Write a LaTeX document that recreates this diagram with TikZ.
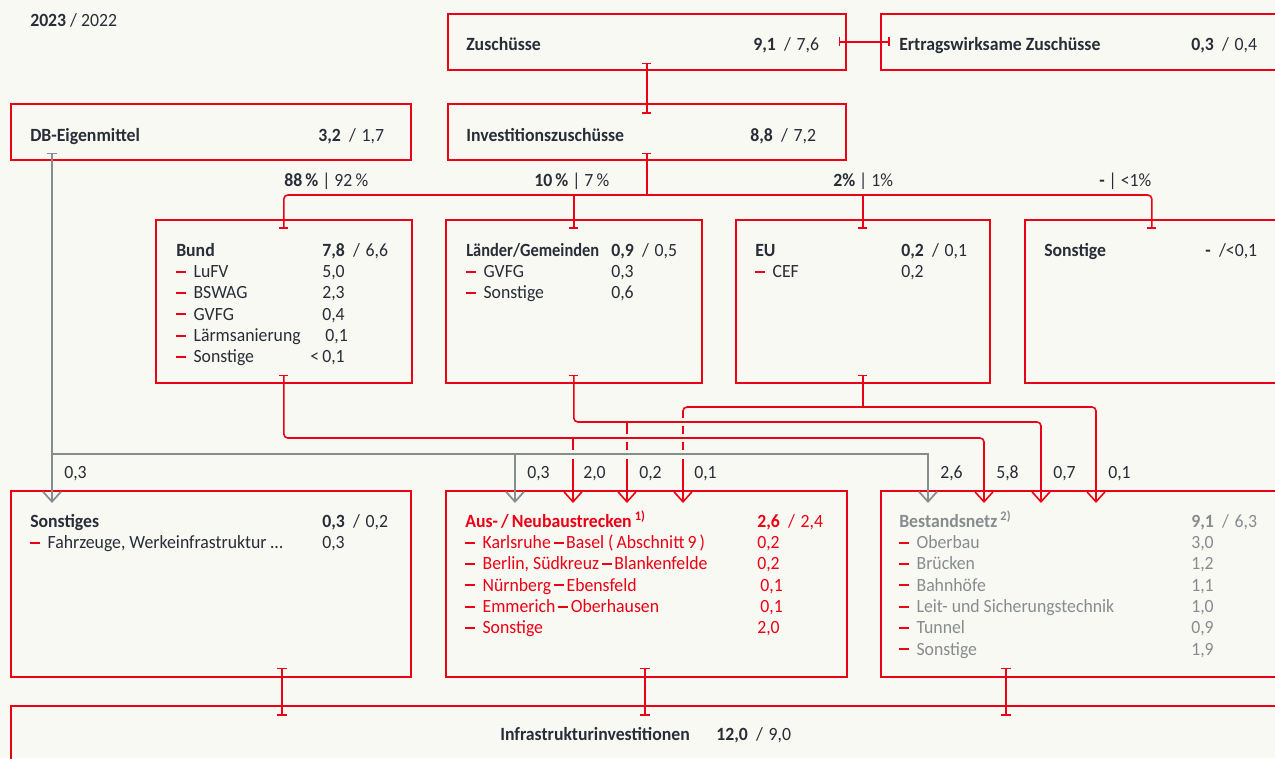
\documentclass[tikz,border=0pt]{standalone}
\usepackage{fontspec}
\setmainfont{Carlito}[FakeStretch=0.95]
\usetikzlibrary{arrows.meta,calc}
\definecolor{dbred}{HTML}{EC0016}
\definecolor{dbgray}{HTML}{878C8F}
\definecolor{dbtext}{HTML}{282D37}
\definecolor{dbbg}{HTML}{F7F9F2}
\newcommand\lidash{\textcolor{dbred}{\rule[3.6pt]{7.5pt}{1.5pt}}\hspace{5.5pt}}
\newcommand\citydash{\hspace{2pt}\rule[3.6pt]{7.5pt}{1.5pt}\hspace{2pt}}
\newcommand\twoval[2]{\textbf{#1}\hspace{0.45em}/\hspace{0.3em}#2}
\newcommand\boxlines[1]{\begin{tabular}[t]{@{}l@{}}#1\end{tabular}}
\begin{document}
\begin{tikzpicture}[x=0.75pt,y=-0.75pt,
  boxframe/.style={draw=dbred,line width=1.2pt,inner sep=0pt,anchor=north west},
  lbl/.style={font=\fontsize{14}{16}\selectfont,inner sep=0pt,text=dbtext,anchor=base west},
  redlink/.style={draw=dbred,line width=1.2pt},
  graylink/.style={draw=dbgray,line width=1.3pt},
  gapmask/.style={draw=dbbg,line width=5.5pt},
  bar2bar/.style={{Bar[width=7pt]}-{Bar[width=7pt]}},
  bar2tip/.style={{Bar[width=7pt]}-{Straight Barb[length=7.5pt,width=13.5pt]}},
  tip2tip/.style={{Straight Barb[length=7.5pt,width=13.5pt]}-{Straight Barb[length=7.5pt,width=13.5pt]}},
  tipend/.style={-{Straight Barb[length=7.5pt,width=13.5pt]}},
  barstart/.style={{Bar[width=7pt]}-},
  barend/.style={-{Bar[width=7pt]}}]
  \fill[dbbg] (0,0) rectangle (1275,758);
  \useasboundingbox (0,0) rectangle (1275,758);
  % boxes
  \node[boxframe,minimum width=398*.75pt,minimum height=56*.75pt] (zusch) at (447,13) {};
  \node[boxframe,minimum width=400*.75pt,minimum height=56*.75pt] (ertrag) at (880,13) {};
  \node[boxframe,minimum width=400*.75pt,minimum height=56*.75pt] (eigen) at (10,103) {};
  \node[boxframe,minimum width=398*.75pt,minimum height=56*.75pt] (invest) at (447,103) {};
  \node[boxframe,minimum width=256*.75pt,minimum height=163*.75pt] (bund) at (155,219) {};
  \node[boxframe,minimum width=256*.75pt,minimum height=163*.75pt] (laender) at (445,219) {};
  \node[boxframe,minimum width=254*.75pt,minimum height=163*.75pt] (eu) at (735,219) {};
  \node[boxframe,minimum width=254*.75pt,minimum height=163*.75pt] (sonst) at (1024,219) {};
  \node[boxframe,minimum width=400*.75pt,minimum height=186*.75pt] (sonstiges) at (10,490) {};
  \node[boxframe,minimum width=401*.75pt,minimum height=186*.75pt] (ausneu) at (445,490) {};
  \node[boxframe,minimum width=400*.75pt,minimum height=186*.75pt] (bestand) at (880,490) {};
  \node[boxframe,minimum width=1270*.75pt,minimum height=60*.75pt] (infra) at (10,705) {};
  % texts
  \node[lbl] (year) at (30,26) {\textbf{2023} / 2022};
  \node[lbl] (zuschT) at (466,50) {\textbf{Zuschüsse}};
  \node[lbl] (zuschV) at (753,50) {\twoval{9,1}{7,6}};
  \node[lbl] (ertragT) at (899,50) {\textbf{Ertragswirksame Zuschüsse}};
  \node[lbl] (ertragV) at (1191,50) {\twoval{0,3}{0,4}};
  \node[lbl] (eigenT) at (30,141) {\textbf{DB-Eigenmittel}};
  \node[lbl] (eigenV) at (318,141) {\twoval{3,2}{1,7}};
  \node[lbl] (investT) at (466,141) {\textbf{Investitionszuschüsse}};
  \node[lbl] (investV) at (750,141) {\twoval{8,8}{7,2}};
  \node[lbl] (pBund) at (284,186) {\textbf{88\,\%} | 92\,\%};
  \node[lbl] (pLaender) at (534,186) {\textbf{10\,\%} | 7\,\%};
  \node[lbl] (pEU) at (833,186) {\textbf{2\%} | 1\%};
  \node[lbl] (pSonst) at (1099,186) {\textbf{-} | <1\%};
  \node[lbl] (bundL) at (176,256) {\boxlines{\textbf{Bund}\\ \lidash LuFV\\ \lidash BSWAG\\ \lidash GVFG\\ \lidash Lärmsanierung\\ \lidash Sonstige}};
  \node[lbl] (bundV) at (322,256) {\boxlines{\twoval{7,8}{6,6}\\ 5,0\\ 2,3\\ 0,4\\ \,0,1\\ \llap{<\,}0,1}};
  \node[lbl] (laenderL) at (466,256) {\boxlines{{\addfontfeatures{FakeStretch=0.88}\textbf{Länder/Gemeinden}}\\ \lidash GVFG\\ \lidash Sonstige}};
  \node[lbl] (laenderV) at (611,256) {\boxlines{\twoval{0,9}{0,5}\\ 0,3\\ 0,6}};
  \node[lbl] (euL) at (755,256) {\boxlines{\textbf{EU}\\ \lidash CEF}};
  \node[lbl] (euV) at (901,256) {\boxlines{\twoval{0,2}{0,1}\\ 0,2}};
  \node[lbl] (sonstL) at (1044,256) {\textbf{Sonstige}};
  \node[lbl] (sonstV) at (1205,256) {\textbf{-}\hspace{0.45em}/<0,1};
  \foreach \x/\v in {64/{0,3},527/{0,3},583/{2,0},639/{0,2},694/{0,1},940/{2,6},996/{5,8},1053/{0,7},1108/{0,1}}
    \node[lbl] (flow\x) at (\x,478) {\v};
  \node[lbl] (sonstigesL) at (30,527) {\boxlines{\textbf{Sonstiges}\\ \lidash Fahrzeuge, Werkeinfrastruktur \dots}};
  \node[lbl] (sonstigesV) at (322,527) {\boxlines{\twoval{0,3}{0,2}\\ 0,3}};
  \node[lbl,text=dbred] (ausneuL) at (465,527) {\boxlines{\textbf{Aus-\,/\,Neubaustrecken}\,\textsuperscript{\textbf{1)}}\\ \lidash Karlsruhe\citydash Basel (\,Abschnitt\,9\,)\\ \lidash Berlin, Südkreuz\citydash Blankenfelde\\ \lidash Nürnberg\citydash Ebensfeld\\ \lidash Emmerich\citydash Oberhausen\\ \lidash Sonstige}};
  \node[lbl,text=dbred] (ausneuV) at (757,527) {\boxlines{\twoval{2,6}{2,4}\\ 0,2\\ 0,2\\ \,0,1\\ \,0,1\\ 2,0}};
  \node[lbl,text=dbgray] (bestandL) at (899,527) {\boxlines{\textbf{Bestandsnetz}\,\textsuperscript{\textbf{2)}}\\ \lidash Oberbau\\ \lidash Brücken\\ \lidash Bahnhöfe\\ \lidash Leit- und Sicherungstechnik\\ \lidash Tunnel\\ \lidash Sonstige}};
  \node[lbl,text=dbgray] (bestandV) at (1191,527) {\boxlines{\twoval{9,1}{6,3}\\ 3,0\\ 1,2\\ 1,1\\ 1,0\\ 0,9\\ 1,9}};
  \node[lbl] (infraT) at (500,740) {\textbf{Infrastrukturinvestitionen}};
  \node[lbl] (infraV) at (716,740) {\twoval{12,0}{9,0}};
  % upper connectors
  \coordinate (lvT) at (0,195);
  \coordinate (trunk) at (invest.south |- lvT);
  \draw[redlink,bar2bar] ($(zusch.east)+(-8,0)$) -- ($(ertrag.west)+(10,0)$);
  \draw[redlink,bar2bar] ($(zusch.south)+(0,-8)$) -- ($(invest.north)+(0,11)$);
  \draw[redlink,barstart] ($(invest.south)+(0,-8)$) -- (trunk);
  \draw[redlink,bar2bar,rounded corners=3pt] ($(bund.north)+(0,10)$) |- (trunk -| sonst.north) -- ($(sonst.north)+(0,10)$);
  \draw[redlink,barend] (trunk -| laender.north) -- ($(laender.north)+(0,10)$);
  \draw[redlink,barend] (trunk -| eu.north) -- ($(eu.north)+(0,10)$);
  % lower connectors
  \coordinate (lvE) at (0,407);
  \coordinate (lvL) at (0,422);
  \coordinate (lvB) at (0,438);
  \coordinate (lvG) at (0,454);
  \coordinate (g1) at (52,503);
  \coordinate (g2) at (515,503);
  \coordinate (g3) at (928,503);
  \coordinate (r1) at (573,503);
  \coordinate (r2) at (627,503);
  \coordinate (r3) at (683,503);
  \coordinate (r4) at (984,503);
  \coordinate (r5) at (1041,503);
  \coordinate (r6) at (1096,503);
  \draw[redlink,barstart] ($(eu.south)+(0,-9)$) -- (eu.south |- lvE);
  \draw[redlink,tip2tip,rounded corners=3pt] (r3) |- (r6 |- lvE) -- (r6);
  \draw[gapmask] (r2 |- lvL) -- (r5 |- lvL);
  \draw[redlink,bar2tip,rounded corners=3pt] ($(laender.south)+(0,-9)$) |- (r5 |- lvL) -- (r5);
  \draw[redlink,tipend] (r2 |- lvL) -- (r2);
  \draw[gapmask] (r1 |- lvB) -- (r4 |- lvB);
  \draw[redlink,bar2tip,rounded corners=3pt] ($(bund.south)+(0,-9)$) |- (r4 |- lvB) -- (r4);
  \draw[redlink,tipend] (r1 |- lvB) -- (r1);
  \draw[gapmask,line width=6.75pt] (g2 |- lvG) -- (g3 |- lvG);
  \draw[graylink,bar2tip] ($(eigen.south west)+(42,-8)$) -- (g1);
  \draw[graylink,tipend] (g1 |- lvG) -| (g3);
  \draw[graylink,tipend] (g2 |- lvG) -- (g2);
  % bottom connectors
  \foreach \b/\dx in {sonstiges/272,ausneu/200,bestand/126}
    \draw[redlink,bar2bar] ($(\b.south west)+(\dx,-10)$) -- ($(\b.south west)+(\dx,38)$);
\end{tikzpicture}
\end{document}
